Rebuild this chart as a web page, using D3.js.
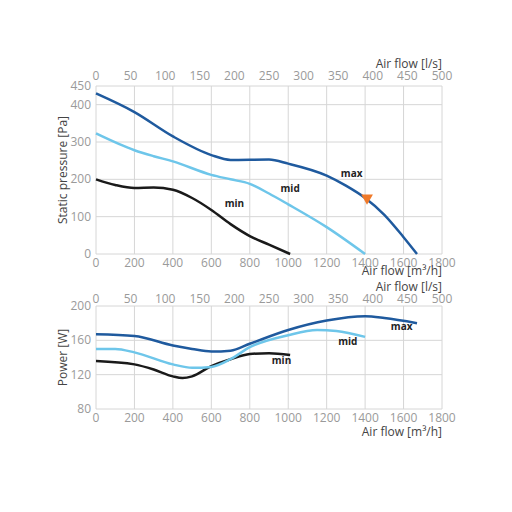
<!DOCTYPE html><html><head><meta charset="utf-8"><script src="https://cdn.jsdelivr.net/npm/d3@7"></script>
<style>body{margin:0;background:#fff}text{font-family:"Open Sans",sans-serif}</style></head><body><svg id="c" width="512" height="512"></svg><script>
const xTicks=[0,200,400,600,800,1000,1200,1400,1600,1800];
const lsTicks=[0,50,100,150,200,250,300,350,400,450,500];
const pTicks=[0,100,200,300,400,450];
const wTicks=[80,120,160,200];
const pMax=[[0,430],[200,380],[400,315],[600,265],[700,252],[900,253],[1000,242],[1200,210],[1300,183],[1400,150],[1500,105],[1600,45],[1670,0]];
const pMid=[[0,323],[200,278],[300,262],[400,248],[600,212],[700,200],[800,188],[900,162],[1000,133],[1200,72],[1400,0]];
const pMin=[[0,200],[100,185],[200,177],[300,178],[400,172],[500,150],[600,118],[700,80],[800,48],[900,25],[1010,0]];
const wMax=[[0,167],[200,165],[400,154],[500,150],[600,147],[700,148],[800,156],[1000,172],[1200,183],[1400,188],[1500,186],[1670,180]];
const wMid=[[0,150],[100,150],[200,146],[400,132],[500,128],[600,129],[700,138],[800,152],[1000,166],[1150,172],[1250,171],[1400,164]];
const wMin=[[0,136],[200,132],[300,126],[400,118],[450,116],[500,118],[600,130],[700,138],[800,144],[900,145],[1010,143]];
const point=[1410,150];
const colors={max:"#1f5a9e",mid:"#6ec6ea",min:"#1a1a1a"};
const svg=d3.select("#c");
const x=d3.scaleLinear().domain([0,1800]).range([96,442]);
const xl=d3.scaleLinear().domain([0,500]).range([96,442]);
function panel(y,yt,title,series,labels,top,bot){
  const g=svg.append("g");
  g.selectAll(".gx").data(xTicks).join("line").attr("x1",d=>x(d)).attr("x2",d=>x(d)).attr("y1",y.range()[0]).attr("y2",y.range()[1]).attr("stroke","#d6d6d6");
  g.selectAll(".gy").data(yt).join("line").attr("x1",96).attr("x2",442).attr("y1",d=>y(d)).attr("y2",d=>y(d)).attr("stroke","#d6d6d6");
  g.selectAll(".ty").data(yt).join("text").attr("x",91).attr("y",d=>y(d)+4).attr("text-anchor","end").attr("font-size",12).attr("fill","#9a9a9a").text(d=>d);
  g.selectAll(".tx").data(xTicks).join("text").attr("x",d=>x(d)).attr("y",y.range()[0]+13).attr("text-anchor","middle").attr("font-size",12).attr("fill","#9a9a9a").text(d=>d);
  g.selectAll(".tl").data(lsTicks).join("text").attr("x",d=>xl(d)).attr("y",top).attr("text-anchor","middle").attr("font-size",12).attr("fill","#9a9a9a").text(d=>d);
  g.append("text").attr("x",442).attr("y",y.range()[0]+bot).attr("text-anchor","end").attr("font-size",12).attr("fill","#444").text("Air flow [m³/h]");
  g.append("text").attr("x",442).attr("y",top-12).attr("text-anchor","end").attr("font-size",12).attr("fill","#444").text("Air flow [l/s]");
  const my=(y.range()[0]+y.range()[1])/2;
  g.append("text").attr("transform",`translate(67,${my}) rotate(-90)`).attr("text-anchor","middle").attr("font-size",12).attr("fill","#444").text(title);
  const line=d3.line().x(d=>x(d[0])).y(d=>y(d[1])).curve(d3.curveMonotoneX);
  ["min","mid","max"].forEach(k=>g.append("path").attr("d",line(series[k])).attr("fill","none").attr("stroke",colors[k]).attr("stroke-width",2.5));
  labels.forEach(l=>g.append("text").attr("x",x(l[1])).attr("y",y(l[2])).attr("text-anchor","middle").attr("font-size",10).attr("font-weight","bold").attr("fill","#222").text(l[0]));
}
const y1=d3.scaleLinear().domain([0,450]).range([254,86]);
panel(y1,pTicks,"Static pressure [Pa]",{max:pMax,mid:pMid,min:pMin},[["max",1330,205],["mid",1010,165],["min",720,125]],80,21);
const y2=d3.scaleLinear().domain([80,200]).range([409,306]);
panel(y2,wTicks,"Power [W]",{max:wMax,mid:wMid,min:wMin},[["max",1590,172],["mid",1310,155],["min",965,133]],303,27);
svg.append("path").attr("d",d3.symbol(d3.symbolTriangle,60)()).attr("transform",`translate(${x(point[0])},${y1(point[1])}) rotate(180)`).attr("fill","#f07a2a");
</script></body></html>
